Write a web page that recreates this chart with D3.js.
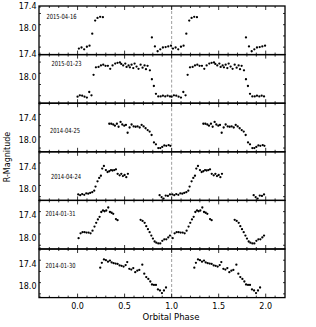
<!DOCTYPE html>
<html>
<head>
<meta charset="utf-8">
<script src="https://cdn.jsdelivr.net/npm/d3@7"></script>
<style>
  html, body { margin: 0; padding: 0; background: #fff; }
  svg { display: block; font-family: "DejaVu Sans", sans-serif; }
</style>
</head>
<body>
<div id="chart"></div>
<script>
// night labels, top panel first
const nights = ['2015-04-16', '2015-01-23', '2014-04-25', '2014-04-24', '2014-01-31', '2014-01-30'];
// upper limit of each panel's magnitude axis
const magTop = [17.4, 17.4, 17.0, 17.0, 17.0, 17.0];

const phase0416 = [0.014, 0.042, 0.07, 0.099, 0.127, 0.156, 0.187, 0.212, 0.24, 0.269,
  0.79, 0.822, 0.851, 0.879, 0.907, 0.936, 0.964, 0.993];
const mag0416 = [18.54, 18.51, 18.56, 18.49, 18.46, 18.14, 17.79, 17.72, 17.69, 17.70,
  18.24, 18.48, 18.61, 18.56, 18.51, 18.50, 18.48, 18.46];

const phase0123 = [0.0, 0.024, 0.049, 0.074, 0.099, 0.124, 0.148, 0.17, 0.195, 0.223,
  0.248, 0.273, 0.297, 0.322, 0.347, 0.372, 0.4, 0.425, 0.45, 0.464, 0.485, 0.507, 0.521,
  0.542, 0.556, 0.574, 0.592, 0.606, 0.627, 0.648, 0.67, 0.691, 0.712, 0.727, 0.744, 0.769,
  0.79, 0.811, 0.833, 0.858, 0.883, 0.907, 0.932, 0.957, 0.982];
const mag0123 = [18.525, 18.49, 18.50, 18.525, 18.55, 18.40, 18.49, 17.94, 17.74, 17.73,
  17.69, 17.67, 17.70, 17.70, 17.78, 17.69, 17.64, 17.62, 17.61, 17.65, 17.69, 17.64, 17.73,
  17.69, 17.74, 17.67, 17.76, 17.64, 17.72, 17.78, 17.67, 17.75, 17.69, 17.79, 17.70, 17.82,
  18.06, 18.24, 18.45, 18.52, 18.52, 18.50, 18.52, 18.50, 18.52];

const phase0425 = [0.337, 0.358, 0.379, 0.397, 0.418, 0.436, 0.457, 0.475, 0.496, 0.514,
  0.532, 0.553, 0.574, 0.596, 0.617, 0.638, 0.66, 0.681, 0.702, 0.723, 0.745, 0.766, 0.787,
  0.812, 0.833, 0.858, 0.879, 0.9, 0.922, 0.943, 0.968, 0.986];
const mag0425 = [17.55, 17.55, 17.57, 17.60, 17.55, 17.63, 17.50, 17.57, 17.60, 17.58,
  17.79, 17.65, 17.57, 17.62, 17.63, 17.62, 17.65, 17.58, 17.62, 17.67, 17.72, 17.76, 17.85,
  18.05, 18.10, 18.20, 18.20, 18.17, 18.13, 18.14, 18.12, 18.14];

const phase0424 = [0.007, 0.028, 0.049, 0.071, 0.092, 0.113, 0.134, 0.156, 0.177, 0.191,
  0.212, 0.23, 0.248, 0.262, 0.28, 0.301, 0.319, 0.337, 0.355, 0.372, 0.39, 0.408, 0.426,
  0.447, 0.465, 0.482, 0.5, 0.518, 0.535,
  0.872, 0.893, 0.914, 0.937, 0.96, 0.982];
const mag0424 = [18.14, 18.16, 18.13, 18.15, 18.11, 18.12, 18.10, 18.08, 18.04, 17.93,
  17.79, 17.70, 17.64, 17.45, 17.38, 17.49, 17.54, 17.52, 17.49, 17.50, 17.49, 17.47, 17.59,
  17.63, 17.59, 17.65, 17.62, 17.68, 17.59,
  18.16, 18.21, 18.25, 18.17, 18.18, 18.14];

const phase0131 = [0.011, 0.032, 0.053, 0.074, 0.095, 0.117, 0.138, 0.159, 0.18, 0.198,
  0.216, 0.234, 0.252, 0.27, 0.287, 0.305, 0.326, 0.344, 0.362, 0.379, 0.408, 0.425,
  0.67, 0.691, 0.713, 0.73, 0.748, 0.766, 0.784, 0.801, 0.819, 0.837, 0.858, 0.879, 0.901,
  0.922, 0.943, 0.964, 0.982];
const mag0131 = [18.01, 17.88, 17.85, 17.85, 17.86, 17.86, 17.88, 17.81, 17.70, 17.60,
  17.51, 17.44, 17.31, 17.27, 17.29, 17.27, 17.19, 17.31, 17.33, 17.36, 17.50, 17.53,
  17.52, 17.55, 17.60, 17.69, 17.77, 17.85, 17.94, 18.02, 18.10, 18.13, 18.15, 18.15, 18.08,
  18.04, 18.04, 17.99, 17.94];

const phase0130 = [0.241, 0.258, 0.28, 0.301, 0.323, 0.344, 0.362, 0.383, 0.404, 0.425,
  0.447, 0.468, 0.489, 0.511, 0.528, 0.55, 0.571, 0.592, 0.613, 0.635, 0.656, 0.688, 0.709,
  0.73, 0.752, 0.773, 0.791, 0.812, 0.833, 0.854, 0.876, 0.897, 0.918, 0.94];
const mag0130 = [17.50, 17.37, 17.28, 17.30, 17.34, 17.31, 17.36, 17.38, 17.39, 17.40,
  17.44, 17.45, 17.47, 17.43, 17.35, 17.53, 17.55, 17.51, 17.62, 17.58, 17.56, 17.42, 17.66,
  17.75, 17.80, 17.87, 17.95, 17.96, 17.96, 18.08, 18.11, 18.18, 18.11, 18.03];

const xTickLabels = ['0.0', '0.5', '1.0', '1.5', '2.0'];
const yTickLabels = ['17.4', '18.0'];

const phases = [phase0416, phase0123, phase0425, phase0424, phase0131, phase0130];
const mags = [mag0416, mag0123, mag0425, mag0424, mag0131, mag0130];

const width = 316, height = 327;
const plotLeft = 39, plotRight = 285, plotTop = 6, plotBottom = 297.6;
const ph = (plotBottom - plotTop) / nights.length;
const magSpan = 1.3;

const svg = d3.select('#chart').append('svg')
  .attr('width', width)
  .attr('height', height);

const x = d3.scaleLinear().domain([-0.41, 2.205]).range([plotLeft, plotRight]);

const xMajor = xTickLabels.map(Number);
const xMinor = d3.range(-4, 23).map(i => i / 10).filter(v => x(v) > plotLeft + 0.5 && x(v) < plotRight - 0.5);

nights.forEach((night, i) => {
  const y0 = plotTop + i * ph;
  const y = d3.scaleLinear().domain([magTop[i], magTop[i] + magSpan]).range([y0, y0 + ph]);
  const g = svg.append('g');

  g.append('clipPath').attr('id', 'clip' + i)
    .append('rect').attr('x', plotLeft).attr('y', y0).attr('width', plotRight - plotLeft).attr('height', ph);

  // phase 1.0 guide
  g.append('line')
    .attr('x1', x(1)).attr('x2', x(1))
    .attr('y1', y0).attr('y2', y0 + ph)
    .attr('stroke', '#888').attr('stroke-width', 0.8)
    .attr('stroke-dasharray', '3,2');

  // each night is plotted twice, at phase and phase + 1
  const pts = [];
  phases[i].forEach((p, k) => {
    pts.push([p, mags[i][k]]);
    pts.push([p + 1, mags[i][k]]);
  });
  g.append('g').attr('clip-path', `url(#clip${i})`)
    .selectAll('circle')
    .data(pts)
    .enter().append('circle')
    .attr('cx', d => x(d[0]))
    .attr('cy', d => y(d[1]))
    .attr('r', 1.15)
    .attr('fill', '#000');

  // ticks, pointing inward on every side
  const ticks = g.append('g').attr('stroke', '#000').attr('stroke-width', 0.8);
  xMinor.forEach(v => {
    const len = xMajor.some(m => Math.abs(m - v) < 1e-6) ? 4 : 2;
    ticks.append('line').attr('x1', x(v)).attr('x2', x(v)).attr('y1', y0 + ph).attr('y2', y0 + ph - len);
    ticks.append('line').attr('x1', x(v)).attr('x2', x(v)).attr('y1', y0).attr('y2', y0 + len);
  });
  const yVals = d3.range(170, 188, 3).map(v => v / 10)
    .filter(v => y(v) > y0 + 0.5 && y(v) < y0 + ph - 0.5);
  yVals.forEach(v => {
    const len = Math.round(v * 10) % 6 === 0 ? 4 : 2;
    ticks.append('line').attr('x1', plotLeft).attr('x2', plotLeft + len).attr('y1', y(v)).attr('y2', y(v));
    ticks.append('line').attr('x1', plotRight).attr('x2', plotRight - len).attr('y1', y(v)).attr('y2', y(v));
  });

  yTickLabels.forEach(t => {
    g.append('text')
      .attr('x', plotLeft - 2.5)
      .attr('y', y(+t))
      .attr('dy', '0.35em')
      .attr('text-anchor', 'end')
      .style('font-size', '8px')
      .text(t);
  });

  g.append('rect')
    .attr('x', plotLeft).attr('y', y0)
    .attr('width', plotRight - plotLeft).attr('height', ph)
    .attr('fill', 'none').attr('stroke', '#000').attr('stroke-width', 1.3);
});

const labelPos = [[46.5, 16.7], [51.5, 64], [50, 131], [51, 176.3], [45.5, 213.3], [45.5, 266]];
nights.forEach((night, i) => {
  svg.append('text')
    .attr('x', labelPos[i][0])
    .attr('y', labelPos[i][1])
    .attr('dy', '0.35em')
    .attr('textLength', 30)
    .attr('lengthAdjust', 'spacingAndGlyphs')
    .style('font-size', '7px')
    .text(night);
});

xTickLabels.forEach(t => {
  svg.append('text')
    .attr('x', x(+t))
    .attr('y', plotBottom + 8.5)
    .attr('dy', '0.35em')
    .attr('text-anchor', 'middle')
    .style('font-size', '8px')
    .text(t);
});

svg.append('text')
  .attr('x', 171)
  .attr('y', 317)
  .attr('dy', '0.35em')
  .attr('text-anchor', 'middle')
  .style('font-size', '8.5px')
  .text('Orbital Phase');

svg.append('text')
  .attr('transform', 'translate(6.7,157) rotate(-90)')
  .attr('dy', '0.35em')
  .attr('text-anchor', 'middle')
  .style('font-size', '8px')
  .text('R-Magnitude');
</script>
</body>
</html>
